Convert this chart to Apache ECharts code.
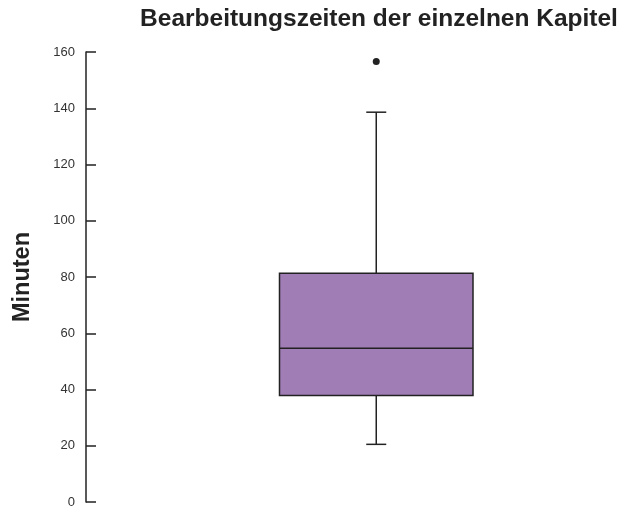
<!DOCTYPE html>
<html>
<head>
  <meta charset="utf-8">
  <title>Bearbeitungszeiten</title>
  <script src="https://fastly.jsdelivr.net/npm/echarts@6/dist/echarts.min.js"></script>
</head>
<body style="margin:0;background:#fff">
<div id="main" style="width:618px;height:510px;"></div>
<script type="text/javascript">
  // box statistics (minutes): lower whisker, Q1, median, Q3, upper whisker
  const categories = ['', 'Kapitel'];
  const boxStats = [[1, 20.5, 37.9, 54.7, 81.3, 138.6]];
  const outliers = [[1, 156.6]];
  const yTicks = [0, 20, 40, 60, 80, 100, 120, 140, 160];

  var myChart = echarts.init(document.getElementById('main'));

  function renderBox(params, api) {
    var x = api.value(0);
    var lo = api.coord([x, api.value(1)]);
    var q1 = api.coord([x, api.value(2)]);
    var med = api.coord([x, api.value(3)]);
    var q3 = api.coord([x, api.value(4)]);
    var hi = api.coord([x, api.value(5)]);
    var half = api.size([1, 0])[0] / 2;
    var cap = 10;
    var cx = med[0];
    var lineStyle = { stroke: '#222', lineWidth: 1.5 };
    return {
      type: 'group',
      children: [
        { type: 'line', shape: { x1: cx, y1: hi[1], x2: cx, y2: q3[1] }, style: lineStyle },
        { type: 'line', shape: { x1: cx, y1: q1[1], x2: cx, y2: lo[1] }, style: lineStyle },
        { type: 'line', shape: { x1: cx - cap, y1: hi[1], x2: cx + cap, y2: hi[1] }, style: lineStyle },
        { type: 'line', shape: { x1: cx - cap, y1: lo[1], x2: cx + cap, y2: lo[1] }, style: lineStyle },
        { type: 'rect', shape: { x: cx - half, y: q3[1], width: half * 2, height: q1[1] - q3[1] },
          style: { fill: '#a17db6', stroke: '#222', lineWidth: 1.5 } },
        { type: 'line', shape: { x1: cx - half, y1: med[1], x2: cx + half, y2: med[1] }, style: lineStyle }
      ]
    };
  }

  var option = {
    animation: false,
    title: {
      text: 'Bearbeitungszeiten der einzelnen Kapitel',
      left: 374,
      top: 2,
      textAlign: 'center',
      textStyle: { fontFamily: 'Liberation Sans', fontSize: 24.5, fontWeight: 'bold', color: '#222' }
    },
    grid: { left: 86, top: 52, width: 387, height: 450 },
    xAxis: {
      type: 'category',
      data: categories,
      show: false
    },
    yAxis: {
      type: 'value',
      min: yTicks[0],
      max: yTicks[yTicks.length - 1],
      interval: 20,
      name: 'Minuten',
      nameLocation: 'middle',
      nameRotate: 90,
      nameGap: 51,
      nameTextStyle: { fontFamily: 'Liberation Sans', fontSize: 23.5, fontWeight: 'bold', color: '#222' },
      axisLine: { show: true, lineStyle: { color: '#222', width: 1.5 } },
      axisTick: { show: true, inside: true, length: 10, lineStyle: { color: '#222', width: 1.5 } },
      axisLabel: { margin: 11, fontFamily: 'Liberation Sans', fontSize: 13, color: '#333' },
      splitLine: { show: false }
    },
    series: [
      {
        type: 'custom',
        renderItem: renderBox,
        data: boxStats,
        encode: { x: 0, y: [1, 2, 3, 4, 5] }
      },
      {
        type: 'scatter',
        data: outliers,
        symbolSize: 7,
        itemStyle: { color: '#222', opacity: 1 }
      }
    ]
  };

  myChart.setOption(option);
</script>
</body>
</html>
